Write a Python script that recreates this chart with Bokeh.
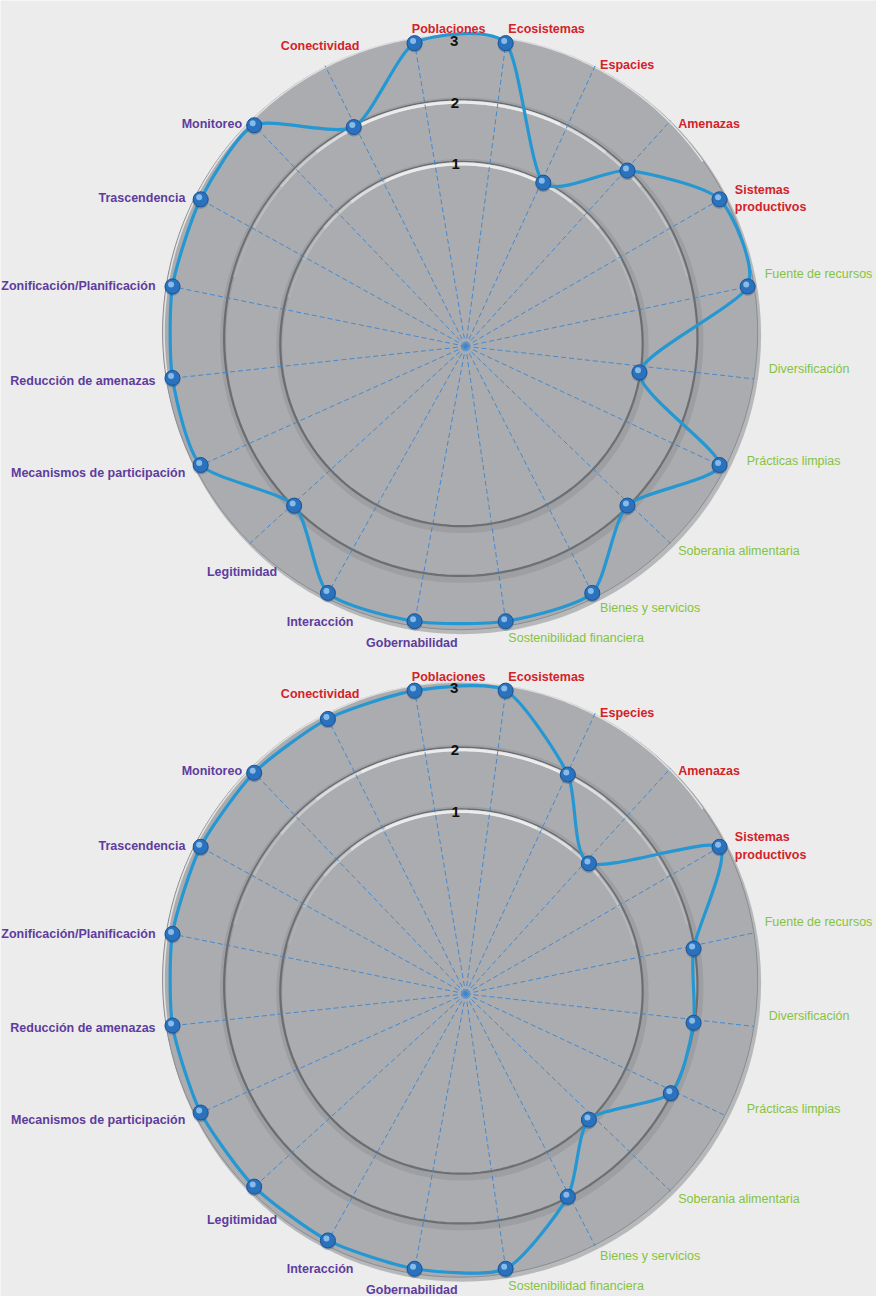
import math
import numpy as np
from bokeh.plotting import figure
from bokeh.models import Range1d
from bokeh.embed import file_html
from bokeh.resources import INLINE
from bokeh.core.properties import value

# ---------------- data ----------------
CATEGORIES_TOP = ["Poblaciones", "Ecosistemas", "Espacies", "Amenazas", "Sistemas\nproductivos",
                  "Fuente de recursos", "Diversificación", "Prácticas limpias",
                  "Soberania alimentaria", "Bienes y servicios", "Sostenibilidad financiera",
                  "Gobernabilidad", "Interacción", "Legitimidad", "Mecanismos de participación",
                  "Reducción de amenazas", "Zonificación/Planificación", "Trascendencia",
                  "Monitoreo", "Conectividad"]
CATEGORIES_BOTTOM = ["Poblaciones", "Ecosistemas", "Especies", "Amenazas", "Sistemas\nproductivos",
                     "Fuente de recursos", "Diversificación", "Prácticas limpias",
                     "Soberania alimentaria", "Bienes y servicios", "Sostenibilidad financiera",
                     "Gobernabilidad", "Interacción", "Legitimidad", "Mecanismos de participación",
                     "Reducción de amenazas", "Zonificación/Planificación", "Trascendencia",
                     "Monitoreo", "Conectividad"]
GROUPS = ["red"] * 5 + ["green"] * 6 + ["purple"] * 8 + ["red"]
VALUES_TOP = [3, 3, 1, 2, 3, 3, 1, 3, 2, 3, 3, 3, 3, 2, 3, 3, 3, 3, 3, 2]
VALUES_BOTTOM = [3, 3, 2, 1, 3, 2, 2, 2, 1, 2, 3, 3, 3, 3, 3, 3, 3, 3, 3, 3]
RING_TICKS = [1, 2, 3]

# ---------------- layout / style ----------------
REF_W, REF_H = 892, 1313
W, H = 876, 1296
CENTERS = [(468.0, 336.0), (468.0, 992.0)]
R_BASE, R_UNIT = 127.0, 56.5
DOME_Y, DOME_X = 6.0, 0.7
DISK_R = 303.0
LABEL_R = 314.0
SMOOTH = 1.0 / 9.0
FONT = "Liberation Sans"
GROUP_COLOR = {"red": "#d2232a", "green": "#84c341", "purple": "#5e3c9e"}
LINE_COLOR = "#2597d3"
DISK_COLOR = "#aaacaf"
BG = "#ececec"

p = figure(width=W, height=H, x_range=Range1d(0, REF_W), y_range=Range1d(REF_H, 0),
           output_backend="svg", toolbar_location=None, min_border=0,
           x_axis_location=None, y_axis_location=None)
p.grid.visible = False
p.outline_line_color = None
p.background_fill_color = BG
p.border_fill_color = BG


def ring_center(cx, cy, v):
    return cx + DOME_X * (3 - v), cy + DOME_Y * (3 - v)


def radius(v):
    return R_BASE + R_UNIT * v


def proj(cx, cy, v, th):
    ccx, ccy = ring_center(cx, cy, v)
    r = radius(v)
    return ccx + r * math.sin(th), ccy - r * math.cos(th)


def arc_pts(ccx, ccy, r, a0, a1, n=160):
    t = np.radians(np.linspace(a0, a1, n))
    return ccx + r * np.sin(t), ccy - r * np.cos(t)


def draw_radar(cx, cy, categories, values):
    n = len(categories)
    step = 2 * math.pi / n
    thetas = [(k - 0.5) * step for k in range(n)]

    # disk shadow and body
    p.circle(x=[cx + 2], y=[cy + 3], radius=DISK_R + 1.5, fill_color="#77797c",
             fill_alpha=0.45, line_color=None)
    p.circle(x=[cx], y=[cy], radius=DISK_R, fill_color=DISK_COLOR, line_color="#8a8c8f",
             line_width=1)
    xs, ys = arc_pts(cx, cy, DISK_R - 1.5, -100, 55)
    p.line(xs, ys, line_color="#f4f4f4", line_width=1.6, line_alpha=0.75)

    # embossed rings for the tick levels below the rim
    for v in RING_TICKS[:-1]:
        ccx, ccy = ring_center(cx, cy, v)
        r = radius(v)
        xs, ys = arc_pts(ccx + 1, ccy + 2, r + 3, 0, 360)
        p.line(xs, ys, line_color="#4f5255", line_width=6, line_alpha=0.14)
        xs, ys = arc_pts(ccx, ccy, r + 1, 0, 360)
        p.line(xs, ys, line_color="#56595c", line_width=2.2, line_alpha=0.72)
        for span, a in ((75, 0.12), (62, 0.18), (50, 0.25), (38, 0.35), (25, 0.45)):
            xs, ys = arc_pts(ccx, ccy, r - 1, -span, span)
            p.line(xs, ys, line_color="#ffffff", line_width=3.2, line_alpha=a)

    # dashed spokes
    hx, hy = ring_center(cx, cy, 0.6)
    ex = [cx + DISK_R * math.sin(t) for t in thetas]
    ey = [cy - DISK_R * math.cos(t) for t in thetas]
    p.segment(x0=[hx + 4] * n, y0=[hy] * n, x1=ex, y1=ey, line_color="#3a85d3",
              line_width=1, line_dash="5 3", line_alpha=0.9)

    # smoothed closed series line
    pts = [proj(cx, cy, v, t) for v, t in zip(values, thetas)]
    x0, y0, x1, y1, c0x, c0y, c1x, c1y = ([] for _ in range(8))
    for k in range(n):
        a, b, c, d = pts[k - 1], pts[k], pts[(k + 1) % n], pts[(k + 2) % n]
        x0.append(b[0]); y0.append(b[1]); x1.append(c[0]); y1.append(c[1])
        c0x.append(b[0] + (c[0] - a[0]) * SMOOTH); c0y.append(b[1] + (c[1] - a[1]) * SMOOTH)
        c1x.append(c[0] - (d[0] - b[0]) * SMOOTH); c1y.append(c[1] - (d[1] - b[1]) * SMOOTH)
    p.bezier(x0=x0, y0=y0, x1=x1, y1=y1, cx0=c0x, cy0=c0y, cx1=c1x, cy1=c1y,
             line_color=LINE_COLOR, line_width=3.2)

    # glossy markers
    px = [q[0] for q in pts]
    py = [q[1] for q in pts]
    p.scatter(px, [y + 1.5 for y in py], size=16, fill_color="#2a4f78", fill_alpha=0.35,
              line_color=None)
    p.scatter(px, py, size=15, fill_color="#2a72bd", line_color="#1b5394", line_width=1)
    p.scatter([x - 1.5 for x in px], [y - 2 for y in py], size=6, fill_color="#a7d3f5",
              fill_alpha=0.75, line_color=None)

    # level numbers
    tx, ty = [], []
    for v in RING_TICKS:
        ccx, ccy = ring_center(cx, cy, v)
        tx.append(ccx - 6)
        ty.append(ccy - radius(v) + 1.5)
    p.text(x=tx, y=ty, text=[str(v) for v in RING_TICKS], text_font=value(FONT),
           text_font_style="bold", text_font_size="15px", text_color="#111111",
           text_align="center", text_baseline="middle")

    # category labels
    for k, (name, grp, t) in enumerate(zip(categories, GROUPS, thetas)):
        s, c = math.sin(t), math.cos(t)
        ax = cx + LABEL_R * s
        ay = cy - (0.95 if c > 0 else 1.0) * LABEL_R * c
        if c > 0:
            ay -= 14 * c ** 10
        if k <= 10:
            align = "left"
            if s > 0.85 and c < 0.3:
                ay -= 12
                ax += 12 * max(0.0, -c) / 0.45
        elif abs(s) >= 0.7 and c >= -0.5:
            align = "right"
        else:
            align = "center"
            ay += (30 * abs(s)) if c < 0 else -(22 * c)
        bold = grp != "green"
        p.text(x=[ax], y=[ay], text=[name], text_font=value(FONT),
               text_font_style="bold" if bold else "normal",
               text_font_size="12.5px",
               text_color=GROUP_COLOR[grp], text_align=align, text_baseline="middle",
               text_line_height=1.25)


draw_radar(CENTERS[0][0], CENTERS[0][1], CATEGORIES_TOP, VALUES_TOP)
draw_radar(CENTERS[1][0], CENTERS[1][1], CATEGORIES_BOTTOM, VALUES_BOTTOM)

open("out.html", "w").write(file_html(p, INLINE))
